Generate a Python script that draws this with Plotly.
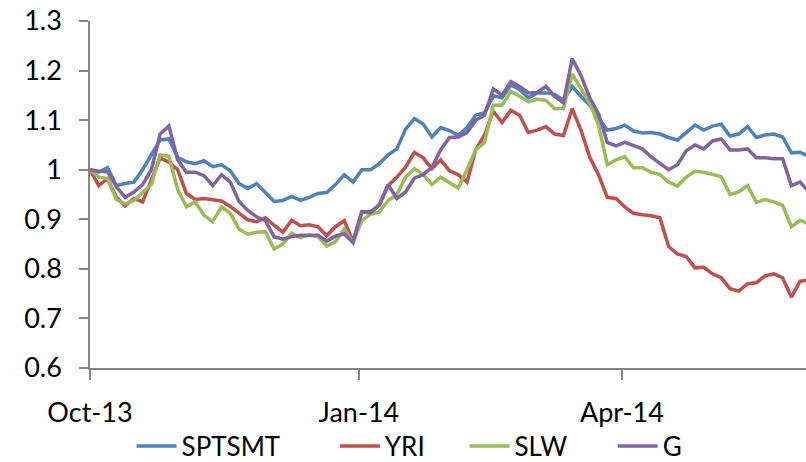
import pandas as pd
import plotly.graph_objects as go

# Observation dates (every third day from the start of October 2013)
dates = pd.date_range("2013-10-01", periods=83, freq="3D")

# Normalised price paths (start = 1)
sptsmt = [1.0, 0.995, 1.004, 0.968, 0.972, 0.975, 1.0, 1.03, 1.06, 1.062,
          1.025, 1.016, 1.012, 1.018, 1.006, 1.01, 0.998, 0.972, 0.962, 0.972,
          0.954, 0.936, 0.938, 0.946, 0.938, 0.944, 0.952, 0.954, 0.97, 0.99,
          0.975, 1.0, 1.0, 1.012, 1.03, 1.042, 1.082, 1.103, 1.092, 1.066,
          1.085, 1.079, 1.069, 1.085, 1.11, 1.115, 1.149, 1.145, 1.171, 1.162,
          1.145, 1.155, 1.155, 1.152, 1.14, 1.168, 1.148, 1.13, 1.105, 1.08,
          1.083, 1.09, 1.078, 1.074, 1.075, 1.072, 1.065, 1.06, 1.075, 1.09,
          1.08, 1.088, 1.092, 1.068, 1.072, 1.087, 1.065, 1.07, 1.072, 1.066,
          1.034, 1.035, 1.027]

yri = [1.0, 0.968, 0.982, 0.945, 0.927, 0.942, 0.935, 0.978, 1.024, 1.015,
       1.0, 0.952, 0.94, 0.942, 0.94, 0.937, 0.926, 0.912, 0.899, 0.895,
       0.903, 0.888, 0.874, 0.898, 0.887, 0.889, 0.885, 0.867, 0.885, 0.897,
       0.855, 0.915, 0.915, 0.928, 0.968, 0.985, 1.005, 1.035, 1.024, 1.002,
       1.02, 0.998, 0.99, 0.975, 1.04, 1.07, 1.118, 1.095, 1.12, 1.11,
       1.075, 1.08, 1.087, 1.072, 1.069, 1.123, 1.08, 1.025, 0.99, 0.944,
       0.942, 0.925, 0.912, 0.909, 0.907, 0.903, 0.845, 0.83, 0.825, 0.802,
       0.803, 0.79, 0.782, 0.76, 0.755, 0.77, 0.772, 0.786, 0.79, 0.782,
       0.743, 0.775, 0.777]

slw = [1.0, 0.985, 0.982, 0.94, 0.931, 0.938, 0.954, 0.97, 1.03, 1.027,
       0.96, 0.925, 0.935, 0.908, 0.895, 0.925, 0.912, 0.88, 0.87, 0.874,
       0.875, 0.84, 0.85, 0.872, 0.863, 0.868, 0.865, 0.846, 0.855, 0.88,
       0.853, 0.898, 0.91, 0.915, 0.938, 0.95, 0.985, 1.002, 0.99, 0.97,
       0.985, 0.974, 0.963, 1.0, 1.04, 1.055, 1.13, 1.13, 1.158, 1.148,
       1.137, 1.142, 1.14, 1.123, 1.124, 1.193, 1.165, 1.135, 1.09, 1.01,
       1.02, 1.026, 1.004, 1.004, 0.995, 0.99, 0.975, 0.967, 0.985, 0.997,
       0.995, 0.99, 0.986, 0.95, 0.955, 0.968, 0.934, 0.94, 0.935, 0.928,
       0.885, 0.898, 0.89]

g = [1.0, 0.997, 0.996, 0.966, 0.944, 0.955, 0.97, 1.0, 1.072, 1.088,
     1.02, 0.995, 0.995, 0.988, 0.968, 0.99, 0.975, 0.936, 0.918, 0.905,
     0.897, 0.865, 0.86, 0.865, 0.868, 0.868, 0.868, 0.856, 0.866, 0.871,
     0.853, 0.915, 0.913, 0.93, 0.97, 0.942, 0.955, 0.983, 0.99, 1.005,
     1.04, 1.065, 1.066, 1.075, 1.1, 1.11, 1.163, 1.15, 1.178, 1.168,
     1.155, 1.156, 1.168, 1.148, 1.135, 1.224, 1.19, 1.145, 1.113, 1.055,
     1.048, 1.055, 1.048, 1.042, 1.026, 1.012, 1.0, 1.01, 1.038, 1.05,
     1.042, 1.058, 1.062, 1.04, 1.04, 1.042, 1.024, 1.024, 1.022, 1.022,
     0.968, 0.975, 0.955]

series_names = ["SPTSMT", "YRI", "SLW", "G"]
series_values = [sptsmt, yri, slw, g]
series_colors = ["#4F81BD", "#C0504D", "#9BBB59", "#8064A2"]

tick_dates = ["2013-10-01", "2014-01-01", "2014-04-01"]
tick_labels = ["Oct-13", "Jan-14", "Apr-14"]

FONT = "Lato"
FONT_SIZE = 27
LEGEND_SIZE = 26
AXIS_GREY = "#868686"

# each legend entry sits in its own legend box so the row spacing can be set
legend_ids = ["legend", "legend2", "legend3", "legend4"]
legend_x = [0.058, 0.342, 0.523, 0.73]

fig = go.Figure()
for name, vals, col, lid in zip(series_names, series_values, series_colors, legend_ids):
    fig.add_trace(go.Scatter(
        x=dates, y=vals, name=name, mode="lines",
        line=dict(color=col, width=3.5),
        legend=lid,
    ))

legend_layout = {}
for lid, lx in zip(legend_ids, legend_x):
    legend_layout[lid] = dict(
        orientation="h", x=lx, xanchor="left", y=-0.225, yanchor="middle",
        font=dict(family=FONT, size=LEGEND_SIZE, color="black"),
        itemwidth=40, bgcolor="rgba(0,0,0,0)",
    )

fig.update_layout(
    width=806, height=462,
    margin=dict(l=90, r=0, t=21, b=94, autoexpand=False),
    paper_bgcolor="white", plot_bgcolor="white",
    font=dict(family=FONT, size=FONT_SIZE, color="black"),
    showlegend=True,
    **legend_layout,
)

fig.update_xaxes(
    type="date",
    range=["2013-10-01", "2014-06-03"],
    tickmode="array", tickvals=tick_dates, ticktext=tick_labels,
    ticks="outside", ticklen=10, tickcolor=AXIS_GREY, tickwidth=1.5,
    showline=True, linecolor=AXIS_GREY, linewidth=1.5,
    showgrid=False, zeroline=False,
    ticklabelstandoff=10,
)

fig.update_yaxes(
    range=[0.6, 1.3], dtick=0.1, tick0=0.6,
    ticks="outside", ticklen=9, tickcolor=AXIS_GREY, tickwidth=1.5,
    showline=True, linecolor=AXIS_GREY, linewidth=1.5,
    showgrid=False, zeroline=False,
    ticklabelstandoff=12,
)

fig.write_html("out.html")
